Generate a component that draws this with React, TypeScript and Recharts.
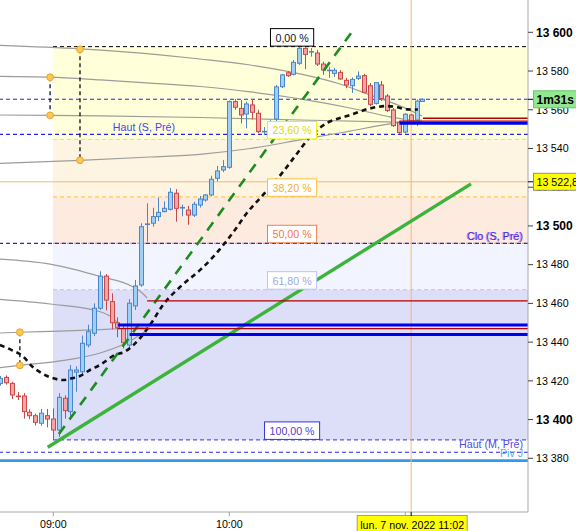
import React from 'react';
import {
  ComposedChart,
  XAxis,
  YAxis,
  Bar,
  Line,
  ReferenceLine,
  ReferenceArea,
  ReferenceDot,
} from 'recharts';

const FONT = '"Liberation Sans", Arial, Helvetica, sans-serif';

// 2-minute bars, Monday 7 Nov 2022
const TIMES = [
  '08:42', '08:44', '08:46', '08:48', '08:50', '08:52', '08:54', '08:56', '08:58',
  '09:00', '09:02', '09:04', '09:06', '09:08', '09:10', '09:12', '09:14', '09:16', '09:18',
  '09:20', '09:22', '09:24', '09:26', '09:28', '09:30', '09:32', '09:34', '09:36', '09:38',
  '09:40', '09:42', '09:44', '09:46', '09:48', '09:50', '09:52', '09:54', '09:56', '09:58',
  '10:00', '10:02', '10:04', '10:06', '10:08', '10:10', '10:12', '10:14', '10:16', '10:18',
  '10:20', '10:22', '10:24', '10:26', '10:28', '10:30', '10:32', '10:34', '10:36', '10:38',
  '10:40', '10:42', '10:44', '10:46', '10:48', '10:50', '10:52', '10:54', '10:56', '10:58',
  '11:00', '11:02', '11:04', '11:06',
];

const OPEN = [
  13418.7, 13421.8, 13418.7, 13412.0, 13412.2, 13403.8, 13402.0, 13398.1, 13402.0,
  13400.3, 13394.6, 13411.0, 13404.1, 13424.5, 13424.7, 13438.5, 13444.6, 13457.5, 13474.1,
  13460.9, 13450.0, 13447.1, 13438.5, 13458.7, 13469.5, 13500.3, 13501.4, 13504.8, 13507.4,
  13508.6, 13516.9, 13509.0, 13508.2, 13505.6, 13510.8, 13513.4, 13516.0, 13524.6, 13528.9,
  13530.3, 13564.2, 13560.7, 13557.8, 13562.5, 13558.2, 13548.0, 13549.0, 13555.2, 13571.9,
  13579.1, 13578.3, 13584.0, 13591.7, 13589.5, 13589.3, 13583.6, 13579.8, 13578.8, 13579.3,
  13575.2, 13572.4, 13576.2, 13577.6, 13572.4, 13563.3, 13572.8, 13567.1, 13559.9, 13553.5,
  13548.5, 13557.3, 13554.7, 13564.3,
];

const HIGH = [
  13422.5, 13422.8, 13419.5, 13414.2, 13413.7, 13405.3, 13403.0, 13405.5, 13405.5,
  13405.8, 13413.7, 13412.5, 13428.2, 13427.5, 13443.4, 13449.0, 13460.0, 13476.6, 13475.2,
  13465.2, 13452.8, 13449.0, 13462.2, 13472.1, 13501.4, 13511.7, 13509.4, 13514.6, 13512.7,
  13519.6, 13519.0, 13511.0, 13510.3, 13512.5, 13515.5, 13516.5, 13525.9, 13530.9, 13534.0,
  13564.8, 13565.5, 13565.0, 13564.2, 13565.5, 13560.0, 13551.0, 13555.0, 13572.8, 13578.5,
  13580.0, 13585.7, 13592.6, 13592.2, 13591.9, 13590.9, 13584.8, 13582.2, 13581.6, 13580.5,
  13576.4, 13576.7, 13579.8, 13578.5, 13573.8, 13574.3, 13574.9, 13568.1, 13560.9, 13554.2,
  13558.3, 13557.8, 13565.3, 13565.8,
];

const LOW = [
  13417.5, 13418.0, 13410.6, 13410.1, 13400.5, 13400.2, 13397.0, 13396.8, 13396.0,
  13389.5, 13391.0, 13400.5, 13400.2, 13414.4, 13422.4, 13437.3, 13443.1, 13456.6, 13456.4,
  13446.6, 13442.5, 13436.8, 13437.0, 13456.6, 13468.6, 13491.9, 13499.6, 13502.5, 13507.0,
  13508.0, 13502.2, 13505.0, 13500.6, 13504.6, 13509.5, 13512.5, 13515.3, 13523.0, 13527.8,
  13529.5, 13560.0, 13552.9, 13550.4, 13555.0, 13548.0, 13547.0, 13547.5, 13553.7, 13571.2,
  13577.0, 13577.7, 13583.1, 13581.0, 13587.4, 13582.6, 13578.0, 13576.5, 13576.9, 13575.4,
  13571.2, 13568.7, 13575.4, 13568.7, 13561.9, 13562.7, 13564.5, 13558.8, 13551.1, 13547.5,
  13547.7, 13553.7, 13551.6, 13564.0,
];

const CLOSE = [
  13421.3, 13419.0, 13412.7, 13411.6, 13404.1, 13402.0, 13398.6, 13403.3, 13400.3,
  13394.6, 13411.5, 13404.6, 13425.6, 13425.6, 13439.4, 13445.4, 13457.5, 13474.1, 13461.7,
  13450.0, 13447.4, 13439.7, 13460.1, 13469.0, 13499.6, 13500.9, 13504.8, 13507.0, 13509.1,
  13517.4, 13509.1, 13509.4, 13505.6, 13511.2, 13513.9, 13516.0, 13524.1, 13528.4, 13530.6,
  13564.2, 13561.3, 13557.3, 13563.0, 13558.7, 13548.7, 13548.7, 13552.5, 13571.8, 13578.0,
  13577.6, 13584.5, 13591.7, 13588.6, 13589.9, 13583.6, 13580.5, 13580.3, 13580.4, 13575.9,
  13572.8, 13575.7, 13577.4, 13569.0, 13562.8, 13574.0, 13565.8, 13559.6, 13551.8, 13548.2,
  13557.7, 13554.2, 13564.5, 13565.4,
];

// Dashed moving average (time in minutes of day, value)
const MA_T = [
  521.8, 525.8, 529.8, 532.6, 536.1, 540.0, 543.4, 546.3, 549.1, 552.5, 555.9, 561.0,
  564.4, 567.2, 569.6, 573.0, 577.4, 583.2, 590.0, 594.5, 598.5, 601.9, 606.0, 611.5,
  618.3, 622.7, 627.5, 633.3, 637.7, 641.2, 648.0, 653.8, 657.2, 660.6, 664.3,
];
const MA_V = [
  13438.5, 13435.9, 13432.5, 13427.7, 13423.9, 13421.3, 13420.4, 13421.3, 13422.5, 13425.6,
  13428.2, 13433.4, 13435.1, 13438.3, 13442.1, 13448.9, 13459.2, 13468.5, 13477.2, 13484.0,
  13491.2, 13497.9, 13506.7, 13516.0, 13527.9, 13536.6, 13545.9, 13553.2, 13555.7, 13557.3,
  13560.7, 13561.9, 13561.3, 13560.2, 13560.1,
];

// Grey cycle arcs
const ARC_A_T = [521.8, 549.1, 576.4, 590.0, 607.1, 624.1, 637.7, 648.0, 658.2, 665.7];
const ARC_A_V = [13593.2, 13591.4, 13588.3, 13586.2, 13583.1, 13578.5, 13573.3, 13567.6, 13562.0, 13556.8];
const ARC_B_T = [521.8, 538.9, 556.0, 573.0, 590.0, 607.1, 624.1, 641.2, 654.8, 665.7];
const ARC_B_V = [13577.2, 13576.8, 13575.4, 13573.8, 13572.0, 13569.2, 13565.6, 13560.9, 13556.3, 13553.7];
const ARC_C_T = [521.8, 538.9, 556.0, 590.0, 624.1, 665.7];
const ARC_C_V = [13557.3, 13557.1, 13556.8, 13556.0, 13554.7, 13553.4];
const ARC_D_T = [521.8, 549.1, 573.0, 590.0, 607.1, 624.1, 641.2, 654.8, 665.7];
const ARC_D_V = [13532.3, 13533.9, 13535.6, 13537.0, 13540.0, 13544.4, 13549.0, 13552.7, 13554.7];
const ARC_E_T = [521.8, 538.9, 556.0, 567.2, 570.3, 572.0];
const ARC_E_V = [13482.9, 13480.3, 13473.9, 13468.5, 13465.4, 13462.8];
const ARC_F_T = [521.8, 538.9, 556.0, 559.3, 561.7];
const ARC_F_V = [13462.1, 13459.7, 13455.7, 13453.5, 13450.4];
const ARC_G_T = [521.8, 528.6, 542.3, 556.0, 573.0];
const ARC_G_V = [13444.7, 13445.1, 13445.7, 13446.5, 13447.8];
const ARC_H_T = [521.8, 528.6, 542.3, 556.0, 566.2, 573.0];
const ARC_H_V = [13426.8, 13428.0, 13430.3, 13434.4, 13440.6, 13447.3];

// Anchor points of the arcs (pairs joined by a dashed stem)
const ANCHOR_T = [538.9, 538.9, 549.1, 549.1, 528.6, 528.6];
const ANCHOR_V = [13576.8, 13557.1, 13591.2, 13533.9, 13445.1, 13428.0];

// Trend lines
const TREND_SOLID = { t1: 538.1, v1: 13385.7, t2: 682.4, v2: 13521.7 };
const TREND_DASHED = { t1: 541.9, v1: 13392.5, t2: 641.8, v2: 13600.2 };

// Fibonacci retracement
const FIB_HIGH = 13592.6;
const FIB_LOW = 13389.5;
const FIB_START = 539.9;
const FIB_LABEL_T = 621.4;
const FIB_RATIOS = [0, 0.236, 0.382, 0.5, 0.618, 1];
const FIB_LABELS = ['0,00 %', '23,60 %', '38,20 %', '50,00 %', '61,80 %', '100,00 %'];

// Weekly / monthly / daily reference levels
const WEEK_HIGH_LEVELS = [13565.4, 13547.3];
const WEEK_CLOSE = 13491.0;
const MONTH_HIGH = 13389.5;
const DAILY_PIVOT = 13383.1;
const SUPPORT_LEVEL = 13378.8;
const LAST_REF = 13522.8;
const LAST_PRICE = 13565.4;
const CURSOR_T = 662;

// Horizontal zones drawn from a given bar to the right edge
const RED_LEVELS = [
  { v: 13461.3, from: '09:32' },
  { v: 13447.0, from: '09:22' },
  { v: 13555.6, from: '11:06' },
  { v: 13554.1, from: '10:58' },
];
const BLUE_LEVELS = [
  { v: 13448.9, from: '09:22' },
  { v: 13443.9, from: '09:26' },
  { v: 13553.0, from: '10:58' },
];

const Y_TICKS = [13380, 13400, 13420, 13440, 13460, 13480, 13500, 13520, 13540, 13560, 13580, 13600];
const X_TICKS = [540, 600, 660];

const X_DOMAIN: [number, number] = [521.83, 701.83];
const Y_DOMAIN: [number, number] = [13352.27, 13616.68];

const STYLE = {
  upFill: '#A0CFF5',
  upStroke: '#4A86C8',
  downFill: '#F4A6A6',
  downStroke: '#C84848',
  fibLine: ['#000000', '#F2F000', '#FFC040', '#F08050', '#B8C6F2', '#3333DD'],
  fibText: ['#101030', '#E2D800', '#F2B036', '#F07850', '#9AAAE0', '#5040C8'],
  zones: ['#FFFFD9', '#FEF4E2', '#FDEBE0', '#F2F5FF', '#DDDEF7'],
};

const toMin = (s: string) => {
  const [h, m] = s.split(':').map(Number);
  return h * 60 + m;
};
const fmtTime = (t: number) =>
  `${String(Math.floor(t / 60)).padStart(2, '0')}:${String(t % 60).padStart(2, '0')}`;
const fmtPrice = (v: number) => `${Math.floor(v / 1000)} ${String(v % 1000).padStart(3, '0')}`;

const candles = TIMES.map((s, i) => ({
  t: toMin(s),
  o: OPEN[i],
  h: HIGH[i],
  l: LOW[i],
  c: CLOSE[i],
  range: [LOW[i], HIGH[i]],
}));

const zip = (ts: number[], vs: number[]) => ts.map((t, i) => ({ t, v: vs[i] }));
const MA = zip(MA_T, MA_V);
const ARCS = [
  zip(ARC_A_T, ARC_A_V),
  zip(ARC_B_T, ARC_B_V),
  zip(ARC_C_T, ARC_C_V),
  zip(ARC_D_T, ARC_D_V),
  zip(ARC_E_T, ARC_E_V),
  zip(ARC_F_T, ARC_F_V),
  zip(ARC_G_T, ARC_G_V),
  zip(ARC_H_T, ARC_H_V),
];

const fibLevels = FIB_RATIOS.map((r) => FIB_HIGH - r * (FIB_HIGH - FIB_LOW));

const charEm = (ch: string) => (ch === ',' || ch === ' ' || ch === '.' ? 0.278 : ch === '%' ? 0.889 : 0.556);
const textW = (s: string, size: number) => [...s].reduce((a, ch) => a + charEm(ch), 0) * size;

const Candle = (props: any) => {
  const { x, y, width, height, payload } = props;
  if (payload == null || x == null) return <g />;
  const { o, h, l, c } = payload;
  const top = Math.min(y, y + height);
  const bot = Math.max(y, y + height);
  const span = h - l;
  const px = (v: number) => (span === 0 ? top : top + ((h - v) / span) * (bot - top));
  const cx = Math.round(x + width / 2) + 0.5;
  const up = c >= o;
  const stroke = up ? STYLE.upStroke : STYLE.downStroke;
  const fill = up ? STYLE.upFill : STYLE.downFill;
  const yo = px(o);
  const yc = px(c);
  const bTop = Math.min(yo, yc);
  const bH = Math.abs(yo - yc);
  return (
    <g>
      <line x1={cx} x2={cx} y1={top} y2={bot} stroke={stroke} strokeWidth={1} />
      {bH < 1.6 ? (
        <line x1={cx - 2.5} x2={cx + 2.5} y1={bTop} y2={bTop} stroke={stroke} strokeWidth={1.6} />
      ) : (
        <rect x={cx - 2} y={bTop} width={4} height={bH} fill={fill} stroke={stroke} strokeWidth={1} />
      )}
    </g>
  );
};

const YTick = (props: any) => {
  const { x, y, payload } = props;
  const v = payload.value as number;
  const major = v % 100 === 0;
  return (
    <text
      x={x}
      y={y}
      dy={major ? 4.3 : 3.8}
      textAnchor="start"
      fill="#000"
      fontFamily={FONT}
      fontSize={major ? 12 : 10.67}
      fontWeight={major ? 'bold' : 'normal'}
    >
      {fmtPrice(v)}
    </text>
  );
};

const XTick = (props: any) => {
  const { x, y, payload } = props;
  if (payload.value === CURSOR_T - 2) return <g />;
  return (
    <text x={x} y={y} dy={10.3} textAnchor="middle" fill="#000" fontFamily={FONT} fontSize={10.67}>
      {fmtTime(payload.value)}
    </text>
  );
};

const FibTag = ({ cx, cy, text, color, textColor }: any) => {
  const w = textW(text, 10.67) + 10;
  return (
    <g>
      <rect x={cx - w / 2} y={cy - 18} width={w} height={17.5} fill="#FFFFFF" stroke={color} strokeWidth={1} />
      <text x={cx} y={cy - 5} textAnchor="middle" fill={textColor} fontFamily={FONT} fontSize={10.67}>
        {text}
      </text>
    </g>
  );
};

const LevelText = ({ cx, cy, text, color, anchor, dy }: any) => (
  <text
    x={anchor === 'end' ? cx - 5 : cx}
    y={cy + dy}
    textAnchor={anchor}
    fill={color}
    fontFamily={FONT}
    fontSize={10.67}
  >
    {text}
  </text>
);

const PriceTag = ({ cx, cy, text, fill, stroke, bold }: any) => (
  <g>
    <line x1={cx} x2={cx + 5} y1={cy} y2={cy} stroke="#000" strokeWidth={1} />
    <rect x={cx + 5.5} y={cy - 8.5} width={50} height={17} fill={fill} stroke={stroke} strokeWidth={1} />
    <text
      x={cx + 8.5}
      y={cy + 4.6}
      fill="#000"
      fontFamily={FONT}
      fontSize={bold ? 12 : 10.67}
      fontWeight={bold ? 'bold' : 'normal'}
    >
      {text}
    </text>
  </g>
);

const DateTag = ({ cx, cy }: any) => (
  <g>
    <rect x={cx - 54} y={cy + 3.5} width={110} height={18} fill="#FFFF00" stroke="#9A9A9A" strokeWidth={1} />
    <line x1={cx} x2={cx} y1={cy} y2={cy + 4} stroke="#000" strokeWidth={1} />
    <text x={cx + 1} y={cy + 16.5} textAnchor="middle" fill="#000" fontFamily={FONT} fontSize={10.67}>
      lun. 7 nov. 2022 11:02
    </text>
  </g>
);

export default function App() {
  const [x0, x1] = X_DOMAIN;
  return (
    <div
      style={{
        position: 'absolute',
        left: 0,
        top: 0,
        width: 576,
        height: 531,
        overflow: 'hidden',
        background: '#FFFFFF',
      }}
    >
      <ComposedChart width={576} height={531} data={candles} margin={{ top: 0, right: 0, bottom: 0, left: 0 }}>
        <XAxis
          dataKey="t"
          type="number"
          domain={X_DOMAIN}
          allowDataOverflow
          ticks={X_TICKS}
          interval={0}
          height={19}
          tickSize={4}
          tickMargin={2}
          axisLine={{ stroke: '#A8A8A8' }}
          tickLine={{ stroke: '#A0A0A0' }}
          tick={XTick}
        />
        <XAxis xAxisId="o" dataKey="t" type="number" domain={X_DOMAIN} allowDataOverflow hide />
        <YAxis
          orientation="right"
          type="number"
          width={48}
          domain={Y_DOMAIN}
          allowDataOverflow
          ticks={Y_TICKS}
          interval={0}
          tickSize={5}
          tickMargin={3}
          axisLine={{ stroke: '#A8A8A8' }}
          tickLine={{ stroke: '#404040' }}
          tick={YTick}
        />

        {/* Fibonacci zones */}
        {STYLE.zones.map((fill, i) => (
          <ReferenceArea
            key={`zone-${i}`}
            x1={FIB_START}
            x2={x1}
            y1={fibLevels[i]}
            y2={fibLevels[i + 1]}
            fill={fill}
            fillOpacity={1}
            stroke="none"
            ifOverflow="hidden"
            zIndex={50}
          />
        ))}

        {/* Fibonacci levels */}
        {fibLevels.map((v, i) => (
          <ReferenceLine
            key={`fib-${i}`}
            segment={[
              { x: FIB_START, y: v },
              { x: x1, y: v },
            ]}
            stroke={STYLE.fibLine[i]}
            strokeWidth={1}
            strokeDasharray="4 3"
            ifOverflow="hidden"
            zIndex={120}
          />
        ))}

        {/* Reference levels spanning the whole window */}
        {[...WEEK_HIGH_LEVELS, WEEK_CLOSE, DAILY_PIVOT].map((v, i) => (
          <ReferenceLine
            key={`lvl-${i}`}
            y={v}
            stroke="#2424EE"
            strokeWidth={1.1}
            strokeDasharray="4 3"
            ifOverflow="hidden"
            zIndex={130}
          />
        ))}
        <ReferenceLine y={SUPPORT_LEVEL} stroke="#3399EE" strokeWidth={2.6} ifOverflow="hidden" zIndex={130} />
        <ReferenceLine y={LAST_REF} stroke="#FFB466" strokeWidth={1} ifOverflow="hidden" zIndex={130} />
        <ReferenceLine x={CURSOR_T} stroke="#FFB46E" strokeWidth={1} ifOverflow="hidden" zIndex={130} />

        {/* Grey arcs */}
        {ARCS.map((pts, i) => (
          <Line
            key={`arc-${i}`}
            xAxisId="o"
            data={pts}
            dataKey="v"
            type="monotone"
            stroke="#9C9C9C"
            strokeWidth={1.2}
            dot={false}
            activeDot={false}
            isAnimationActive={false}
            zIndex={150}
          />
        ))}

        {/* Arc anchor stems */}
        {[0, 2, 4].map((i) => (
          <ReferenceLine
            key={`stem-${i}`}
            segment={[
              { x: ANCHOR_T[i], y: ANCHOR_V[i] },
              { x: ANCHOR_T[i + 1], y: ANCHOR_V[i + 1] },
            ]}
            stroke="#111111"
            strokeWidth={1.3}
            strokeDasharray="4 3"
            ifOverflow="hidden"
            zIndex={160}
          />
        ))}

        {/* Candles */}
        <Bar dataKey="range" barSize={5} shape={Candle} isAnimationActive={false} zIndex={300} />

        {/* Moving average */}
        <Line
          xAxisId="o"
          data={MA}
          dataKey="v"
          type="monotone"
          stroke="#111111"
          strokeWidth={2.6}
          strokeDasharray="5 4"
          dot={false}
          activeDot={false}
          isAnimationActive={false}
          zIndex={400}
        />

        {/* Trend lines */}
        <ReferenceLine
          segment={[
            { x: TREND_SOLID.t1, y: TREND_SOLID.v1 },
            { x: TREND_SOLID.t2, y: TREND_SOLID.v2 },
          ]}
          stroke="#3CB43C"
          strokeWidth={3.4}
          ifOverflow="visible"
          zIndex={410}
        />
        <ReferenceLine
          segment={[
            { x: TREND_DASHED.t1, y: TREND_DASHED.v1 },
            { x: TREND_DASHED.t2, y: TREND_DASHED.v2 },
          ]}
          stroke="#1E8C1E"
          strokeWidth={2.6}
          strokeDasharray="10 8"
          ifOverflow="visible"
          zIndex={410}
        />

        {/* Zone bounds */}
        {RED_LEVELS.map((r, i) => (
          <ReferenceLine
            key={`red-${i}`}
            segment={[
              { x: toMin(r.from), y: r.v },
              { x: x1, y: r.v },
            ]}
            stroke="#B00000"
            strokeWidth={1.3}
            ifOverflow="hidden"
            zIndex={450}
          />
        ))}
        {BLUE_LEVELS.map((r, i) => (
          <ReferenceLine
            key={`blue-${i}`}
            segment={[
              { x: toMin(r.from), y: r.v },
              { x: x1, y: r.v },
            ]}
            stroke="#0000EE"
            strokeWidth={3}
            ifOverflow="hidden"
            zIndex={455}
          />
        ))}

        {/* Anchor dots */}
        {ANCHOR_T.map((t, i) => (
          <ReferenceDot
            key={`dot-${i}`}
            x={t}
            y={ANCHOR_V[i]}
            r={3.4}
            fill="#FFC84E"
            stroke="#E6A232"
            strokeWidth={1}
            ifOverflow="visible"
            zIndex={500}
          />
        ))}

        {/* Fibonacci tags */}
        {fibLevels.map((v, i) => (
          <ReferenceDot
            key={`fibtag-${i}`}
            x={FIB_LABEL_T}
            y={v}
            r={1}
            ifOverflow="visible"
            zIndex={2000}
            shape={(p: any) => (
              <FibTag cx={p.cx} cy={p.cy} text={FIB_LABELS[i]} color={STYLE.fibLine[i]} textColor={STYLE.fibText[i]} />
            )}
          />
        ))}

        {/* Level captions */}
        <ReferenceDot
          x={570.9}
          y={WEEK_HIGH_LEVELS[1]}
          r={1}
          ifOverflow="visible"
          zIndex={2000}
          shape={(p: any) => <LevelText cx={p.cx} cy={p.cy} text="Haut (S, Pré)" color="#4444EE" anchor="middle" dy={-3.5} />}
        />
        <ReferenceDot
          x={x1}
          y={WEEK_CLOSE}
          r={1}
          ifOverflow="visible"
          zIndex={2000}
          shape={(p: any) => (
            <g>
              <LevelText cx={p.cx - 1} cy={p.cy} text="Clo (S, Pré)" color="#D070D8" anchor="end" dy={-3} />
              <LevelText cx={p.cx} cy={p.cy} text="Clo (S, Pré)" color="#3333EE" anchor="end" dy={-3} />
            </g>
          )}
        />
        <ReferenceDot
          x={x1}
          y={MONTH_HIGH}
          r={1}
          ifOverflow="visible"
          zIndex={2000}
          shape={(p: any) => <LevelText cx={p.cx} cy={p.cy} text="Haut (M, Pré)" color="#4C4CEE" anchor="end" dy={8.5} />}
        />
        <ReferenceDot
          x={x1}
          y={DAILY_PIVOT}
          r={1}
          ifOverflow="visible"
          zIndex={2000}
          shape={(p: any) => <LevelText cx={p.cx} cy={p.cy} text="Piv J" color="#55AAFF" anchor="end" dy={5} />}
        />

        {/* Axis tags */}
        <ReferenceDot
          x={x1}
          y={LAST_REF}
          r={1}
          ifOverflow="visible"
          zIndex={2100}
          shape={(p: any) => <PriceTag cx={p.cx} cy={p.cy} text="13 522,8" fill="#FFFF00" stroke="#8C8C8C" />}
        />
        <ReferenceDot
          x={x1}
          y={LAST_PRICE}
          r={1}
          ifOverflow="visible"
          zIndex={2100}
          shape={(p: any) => <PriceTag cx={p.cx} cy={p.cy} text="1m31s" fill="#90E890" stroke="#6CC46C" bold />}
        />
        <ReferenceDot
          x={CURSOR_T}
          y={Y_DOMAIN[0]}
          r={1}
          ifOverflow="visible"
          zIndex={2100}
          shape={(p: any) => <DateTag cx={p.cx} cy={p.cy} />}
        />
      </ComposedChart>
    </div>
  );
}
